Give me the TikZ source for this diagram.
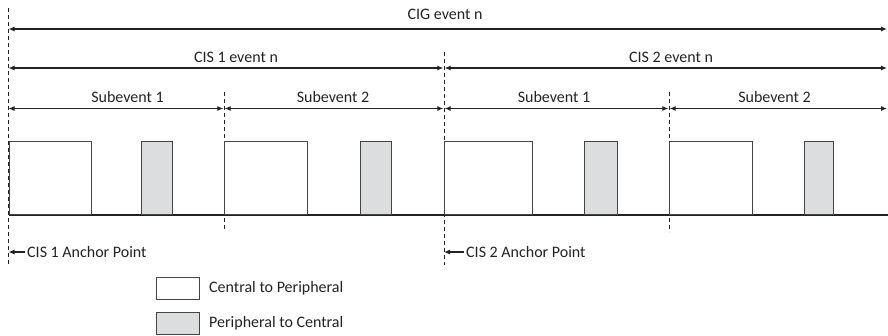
\documentclass[tikz,border=0pt]{standalone}
\usepackage{fontspec}
\setmainfont{Carlito}
\usetikzlibrary{arrows.meta}
\definecolor{ink}{RGB}{35,35,35}
\definecolor{pfill}{RGB}{220,221,222}
\begin{document}
\begin{tikzpicture}[x=1pt,y=-1pt,
  lbl/.style={font=\fontsize{16}{19}\selectfont, text=ink, inner sep=0pt},
  span/.style={draw=ink, line width=1.1pt,
    {Latex[length=6pt,width=5pt]}-{Latex[length=6pt,width=5pt]}},
  pointer/.style={draw=ink, line width=1.1pt, -{Latex[length=6pt,width=5pt]}},
  marker/.style={draw=ink, line width=0.9pt, dash pattern=on 4pt off 3pt},
  cbox/.style={draw=ink!85, line width=1.1pt, fill=white, anchor=south west,
    inner sep=0pt, minimum height=73pt},
  pbox/.style={cbox, fill=pfill},
  keybox/.style={draw=ink!85, line width=1.1pt, inner sep=0pt, anchor=north west,
    minimum width=43pt, minimum height=22pt},
]
\useasboundingbox (0,0) rectangle (888,335);

% time marks (dashed verticals)
\coordinate (m0) at (8.5,0);
\coordinate (m1) at (224,0);
\coordinate (m2) at (444,0);
\coordinate (m3) at (669,0);
\coordinate (m4) at (887,0);

\coordinate (m0top) at (8.5,8);   \coordinate (m0bot) at (8.5,265);
\coordinate (m1top) at (224,92);  \coordinate (m1bot) at (224,229);
\coordinate (m2top) at (444,52);  \coordinate (m2bot) at (444,265);
\coordinate (m3top) at (669,92);  \coordinate (m3bot) at (669,232);
\draw[marker] (m0top) -- (m0bot);
\draw[marker] (m1top) -- (m1bot);
\draw[marker] (m2top) -- (m2bot);
\draw[marker] (m3top) -- (m3bot);

% rows of spans
\coordinate (rowcig) at (0,29);
\coordinate (rowcis) at (0,68);
\coordinate (rowsub) at (0,108.5);

\draw[span] (m0 |- rowcig) -- (m4 |- rowcig);
\draw[span] (m0 |- rowcis) -- ([xshift=-0.6pt]m2 |- rowcis);
\draw[span] ([xshift=0.6pt]m2 |- rowcis) -- (m4 |- rowcis);
\draw[span] (m0 |- rowsub) -- ([xshift=-0.6pt]m1 |- rowsub);
\draw[span] ([xshift=0.6pt]m1 |- rowsub) -- ([xshift=-0.6pt]m2 |- rowsub);
\draw[span] ([xshift=0.6pt]m2 |- rowsub) -- ([xshift=-0.6pt]m3 |- rowsub);
\draw[span] ([xshift=0.6pt]m3 |- rowsub) -- (m4 |- rowsub);

% span labels
\node[lbl] (lcig) at (445,14) {CIG event n};
\node[lbl] (lcis1) at (236,57) {CIS 1 event n};
\node[lbl] (lcis2) at (671,57) {CIS 2 event n};
\node[lbl] (ls11) at (127.5,97) {Subevent 1};
\node[lbl] (ls12) at (333,97) {Subevent 2};
\node[lbl] (ls21) at (554,97) {Subevent 1};
\node[lbl] (ls22) at (774.5,97) {Subevent 2};

% baseline
\coordinate (basel) at (8.5,215);
\coordinate (baser) at (888,215);
\draw[draw=ink, line width=1.1pt] (basel) -- (baser);

% packets: central to peripheral (white), peripheral to central (grey)
\node[cbox, minimum width=82pt] (c11) at (8.5,215) {};
\node[pbox, minimum width=31pt] (p11) at (141,215) {};
\node[cbox, minimum width=83pt] (c12) at (224,215) {};
\node[pbox, minimum width=31pt] (p12) at (360,215) {};
\node[cbox, minimum width=88pt] (c21) at (444,215) {};
\node[pbox, minimum width=33pt] (p21) at (584,215) {};
\node[cbox, minimum width=83pt] (c22) at (669,215) {};
\node[pbox, minimum width=29pt] (p22) at (804,215) {};

% anchor points
\node[lbl, anchor=west, inner xsep=2pt] (anc1) at (25,252) {CIS 1 Anchor Point};
\node[lbl, anchor=west, inner xsep=2pt] (anc2) at (464,252) {CIS 2 Anchor Point};
\draw[pointer] (anc1.west) -- (m0 |- anc1.west);
\draw[pointer] (anc2.west) -- (m2 |- anc2.west);

% legend
\node[keybox, fill=white] (kc) at (156,277) {};
\node[keybox, fill=pfill] (kp) at (156,312) {};
\node[lbl, anchor=west] (tkc) at (209,288) {Central to Peripheral};
\node[lbl, anchor=west] (tkp) at (209,323) {Peripheral to Central};
\end{tikzpicture}
\end{document}
